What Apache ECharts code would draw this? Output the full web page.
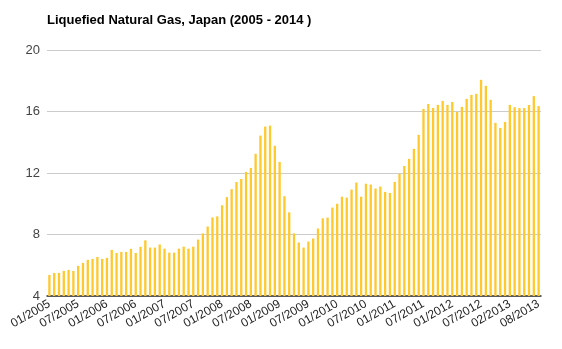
<!DOCTYPE html>
<html>
<head>
<meta charset="utf-8">
<script src="https://cdn.jsdelivr.net/npm/echarts@6/dist/echarts.min.js"></script>
<style>
html,body{margin:0;padding:0;background:#fff;}
#chart{width:562px;height:349px;}
</style>
</head>
<body>
<div id="chart"></div>
<script>
const titleText = "Liquefied Natural Gas, Japan (2005 - 2014 )";
const months = [
"01/2005","02/2005","03/2005","04/2005","05/2005","06/2005","07/2005","08/2005","09/2005","10/2005","11/2005","12/2005",
"01/2006","02/2006","03/2006","04/2006","05/2006","06/2006","07/2006","08/2006","09/2006","10/2006","11/2006","12/2006",
"01/2007","02/2007","03/2007","04/2007","05/2007","06/2007","07/2007","08/2007","09/2007","10/2007","11/2007","12/2007",
"01/2008","02/2008","03/2008","04/2008","05/2008","06/2008","07/2008","08/2008","09/2008","10/2008","11/2008","12/2008",
"01/2009","02/2009","03/2009","04/2009","05/2009","06/2009","07/2009","08/2009","09/2009","10/2009","11/2009","12/2009",
"01/2010","02/2010","03/2010","04/2010","05/2010","06/2010","07/2010","08/2010","09/2010","10/2010","11/2010","12/2010",
"01/2011","02/2011","03/2011","04/2011","05/2011","06/2011","07/2011","08/2011","09/2011","10/2011","11/2011","12/2011",
"01/2012","02/2012","03/2012","04/2012","05/2012","06/2012","07/2012","08/2012","09/2012","10/2012","11/2012",
"01/2013","02/2013","03/2013","04/2013","05/2013","06/2013","07/2013","08/2013"
];
const prices = [
5.37,5.5,5.5,5.63,5.7,5.63,5.96,6.15,6.35,6.41,6.54,6.41,
6.48,7.0,6.8,6.87,6.87,7.07,6.8,7.2,7.62,7.15,7.15,7.35,
7.08,6.82,6.82,7.08,7.21,7.08,7.21,7.67,8.07,8.52,9.11,9.18,
9.9,10.43,10.95,11.41,11.61,12.07,12.33,13.25,14.43,15.02,15.08,13.77,
12.72,10.49,9.44,8.07,7.48,7.15,7.54,7.74,8.39,9.05,9.1,9.75,
10.0,10.46,10.4,10.92,11.38,10.46,11.3,11.25,10.99,11.12,10.77,10.7,
11.42,11.94,12.46,12.92,13.57,14.48,16.17,16.49,16.23,16.43,16.69,16.43,
16.62,15.97,16.3,16.82,17.08,17.15,18.06,17.67,16.76,15.26,14.93,
15.32,16.43,16.28,16.22,16.22,16.42,17.0,16.35
];
const yTicks = {min: 4, max: 20, interval: 4};

const chart = echarts.init(document.getElementById('chart'), null, {renderer: 'canvas'});
chart.setOption({
  animation: false,
  backgroundColor: '#ffffff',
  title: {
    text: titleText,
    left: 47, top: 14, padding: 0,
    textStyle: {fontFamily: 'Liberation Sans, Arial, sans-serif', fontSize: 13, fontWeight: 'bold', color: '#000'}
  },
  grid: {left: 47, right: 21, top: 50, bottom: 53, containLabel: false},
  xAxis: {
    type: 'category',
    data: months,
    axisLine: {show: true, lineStyle: {color: '#333', width: 1.5}},
    axisTick: {show: false},
    axisLabel: {
      interval: 5, rotate: 30, margin: 7,
      fontFamily: 'Liberation Sans, Arial, sans-serif', fontSize: 12, color: '#222'
    },
    splitLine: {show: false}
  },
  yAxis: {
    type: 'value',
    min: yTicks.min, max: yTicks.max, interval: yTicks.interval,
    axisLine: {show: false},
    axisTick: {show: false},
    axisLabel: {margin: 7, fontFamily: 'Liberation Sans, Arial, sans-serif', fontSize: 13, color: '#444'},
    splitLine: {lineStyle: {color: '#cccccc', width: 1}}
  },
  series: [{
    type: 'bar',
    data: prices,
    barWidth: '48%',
    itemStyle: {color: '#ffc82c'}
  }]
});
</script>
</body>
</html>
